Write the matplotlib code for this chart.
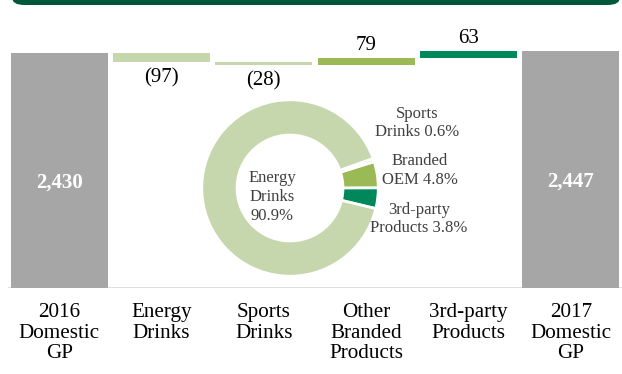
import numpy as np
import matplotlib
matplotlib.use("Agg")
import matplotlib.pyplot as plt
from matplotlib.patches import FancyBboxPatch

plt.rcParams['font.family'] = ['Liberation Serif', 'DejaVu Serif']

# waterfall data
categories = ["2016\nDomestic\nGP", "Energy\nDrinks", "Sports\nDrinks",
              "Other\nBranded\nProducts", "3rd-party\nProducts", "2017\nDomestic\nGP"]
start_gp = 2430
changes = [-97, -28, 79, 63]
end_gp = 2447
change_colors = ['#c6d7ad', '#c6d7ad', '#9bba56', '#00875a']

# donut data (share of 2017 domestic GP)
pie_labels = ["3rd-party\nProducts 3.8%", "Branded\nOEM 4.8%", "Sports\nDrinks 0.6%", "Energy\nDrinks\n90.9%"]
pie_values = [3.8, 4.8, 0.6, 90.9]
pie_colors = ['#00875a', '#9bba56', '#c6d7ad', '#c6d7ad']

GRAY = '#a6a6a6'

fig = plt.figure(figsize=(6.22, 3.74), dpi=100)

# header band
hdr = FancyBboxPatch((12 / 622, 1 - 5 / 374), 608 / 622, 0.05,
                     boxstyle="round,pad=0,rounding_size=0.02",
                     transform=fig.transFigure, facecolor='#00573a', edgecolor='none')
fig.patches.append(hdr)

ax = fig.add_axes([8 / 622, (374 - 288) / 374, 614 / 622, 248 / 374])

x = np.arange(len(categories))
cum = start_gp + np.cumsum([0] + changes)
bottoms = [min(cum[i], cum[i + 1]) for i in range(len(changes))]
heights = [abs(c) for c in changes]

ax.bar(x[0], start_gp, width=0.95, color=GRAY)
ax.bar(x[-1], end_gp, width=0.95, color=GRAY)
ax.bar(x[1:-1], heights, bottom=bottoms, width=0.95, color=change_colors)

ax.axhline(0, color='#d9d9d9', lw=1.2, zorder=0)

for xi, val in [(x[0], start_gp), (x[-1], end_gp)]:
    ax.text(xi, val * 0.45, f"{val:,}", ha='center', va='center',
            color='white', fontsize=15, fontweight='bold')

for i, c in enumerate(changes):
    xi = x[i + 1]
    if c < 0:
        ax.annotate(f"({abs(c)})", (xi, bottoms[i]), xytext=(0, -11),
                    textcoords='offset points', ha='center', va='center', fontsize=15)
    else:
        ax.annotate(f"{c}", (xi, bottoms[i] + heights[i]), xytext=(0, 9),
                    textcoords='offset points', ha='center', va='center', fontsize=15)

ax.set_xlim(-0.5, 5.5)
ax.set_ylim(0, 2565)
ax.set_xticks(x)
ax.set_xticklabels(categories, fontsize=15.2, linespacing=1.09)
ax.tick_params(axis='x', length=0, pad=11)
ax.set_yticks([])
for s in ax.spines.values():
    s.set_visible(False)

# donut inset
cx, cy, r = 290, 188, 90
ax2 = fig.add_axes([(cx - r) / 622, (374 - cy - r) / 374, 2 * r / 622, 2 * r / 374])
ax2.pie(pie_values, colors=pie_colors, startangle=-13.5, counterclock=True,
        wedgeprops=dict(width=0.4, edgecolor='white', linewidth=2))
ax2.set_xlim(-1.02, 1.02)
ax2.set_ylim(-1.02, 1.02)
ax2.set_aspect('equal')
ax2.text(-0.2, -0.1, pie_labels[3], ha='center', va='center', fontsize=12,
         color='#404040', linespacing=1.25)

label_pos = [(419, 219), (420, 170), (417, 123)]
for lab, (px, py) in zip(pie_labels[:3], label_pos):
    fig.text(px / 622, (374 - py) / 374, lab, ha='center', va='center',
             fontsize=12, color='#404040', linespacing=1.25)

fig.savefig("out.png", dpi=100)
